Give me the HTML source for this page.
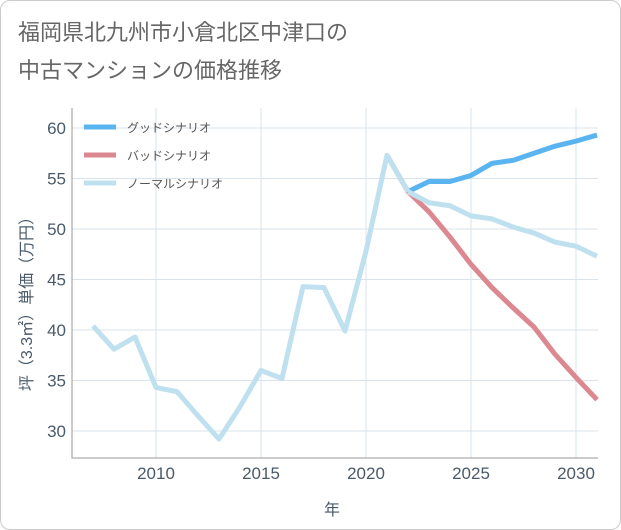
<!DOCTYPE html>
<html><head><meta charset="utf-8"><style>
body{margin:0;background:#fff;}
#card{position:absolute;left:0;top:0;width:619px;height:528px;border:1px solid #ccc;border-radius:10px;background:#fff;}
text{font-family:"Liberation Sans","Noto Sans CJK JP",sans-serif;}
</style></head><body>
<div id="card"></div>
<svg id="chart" width="621" height="530" style="position:absolute;left:0;top:0">
<text x="18" y="40" font-size="22" fill="#666">福岡県北九州市小倉北区中津口の</text>
<text x="18" y="78" font-size="22" fill="#666">中古マンションの価格推移</text>
<g id="grid"></g><g id="axes"></g><g id="series"></g><g id="legend"></g>
<text x="332" y="515" font-size="16" fill="#4a5a6a" text-anchor="middle">年</text>
<text transform="translate(32,300) rotate(-90)" font-size="16" fill="#4a5a6a" text-anchor="middle">坪（3.3㎡）単価（万円）</text>
</svg>
<script>
const histYears=[2007,2008,2009,2010,2011,2012,2013,2014,2015,2016,2017,2018,2019,2020,2021,2022];
const histValues=[40.4,38.1,39.3,34.3,33.9,31.5,29.2,32.4,36.0,35.2,44.3,44.2,39.9,47.8,57.3,53.7];
const futYears=[2022,2023,2024,2025,2026,2027,2028,2029,2030,2031];
const goodValues=[53.7,54.7,54.7,55.3,56.5,56.8,57.5,58.2,58.7,59.3];
const badValues=[53.7,51.7,49.2,46.5,44.2,42.2,40.3,37.6,35.3,33.1];
const normalValues=[53.7,52.6,52.3,51.3,51.0,50.2,49.6,48.7,48.3,47.3];
const xTicks=[2010,2015,2020,2025,2030];
const yTicks=[30,35,40,45,50,55,60];
const NS='http://www.w3.org/2000/svg';
const L=72,R=598,T=108,B=458;
const x=v=>156+(v-2010)*21;
const y=v=>431-(v-30)*10.1;
function mk(tag,attrs,parent){const e=document.createElementNS(NS,tag);for(const k in attrs)e.setAttribute(k,attrs[k]);parent.appendChild(e);return e;}
const grid=document.getElementById('grid'),axes=document.getElementById('axes'),ser=document.getElementById('series'),leg=document.getElementById('legend');
xTicks.forEach(t=>{
 const l=mk('line',{x1:x(t),x2:x(t),y1:T,y2:B,stroke:'#d8e3ec'},grid);
 
 
 const tx=mk('text',{x:x(t),y:B+21,'font-size':17,fill:'#4a5a6a','text-anchor':'middle'},axes);
 tx.textContent=t;
 
 
});
yTicks.forEach(t=>{
 const l=mk('line',{x1:L,x2:R,y1:y(t),y2:y(t),stroke:'#d8e3ec'},grid);
 
 
 const tx=mk('text',{x:L-6,y:y(t)+6,'font-size':17,fill:'#4a5a6a','text-anchor':'end'},axes);
 tx.textContent=t;
 
 
});
const ax=mk('path',{d:`M${L},${T} V${B} H${R}`,stroke:'#999',fill:'none'},axes);


function line(xs,vs,color,name){
 const p=mk('polyline',{points:xs.map((v,i)=>x(v)+','+y(vs[i])).join(' '),fill:'none',stroke:color,'stroke-width':5,'stroke-linejoin':'round'},ser);
 
 
}
line(futYears,goodValues,'#5ab4f0','good-scenario-line');
line([2021].concat(futYears),[57.3].concat(badValues),'#dc8890','bad-scenario-line');
line(histYears,histValues,'#bfe0ee','history-line');
line(futYears,normalValues,'#bfe0ee','normal-scenario-line');
const items=[['グッドシナリオ','#5ab4f0'],['バッドシナリオ','#dc8890'],['ノーマルシナリオ','#bfe0ee']];
items.forEach((it,i)=>{
 const yy=127+i*28;
 const l=mk('line',{x1:84,x2:116,y1:yy,y2:yy,stroke:it[1],'stroke-width':5},leg);
 
 
 const t=mk('text',{x:127,y:yy+5,'font-size':12,fill:'#555'},leg);
 t.textContent=it[0];
 
 
});
</script>
</body></html>
